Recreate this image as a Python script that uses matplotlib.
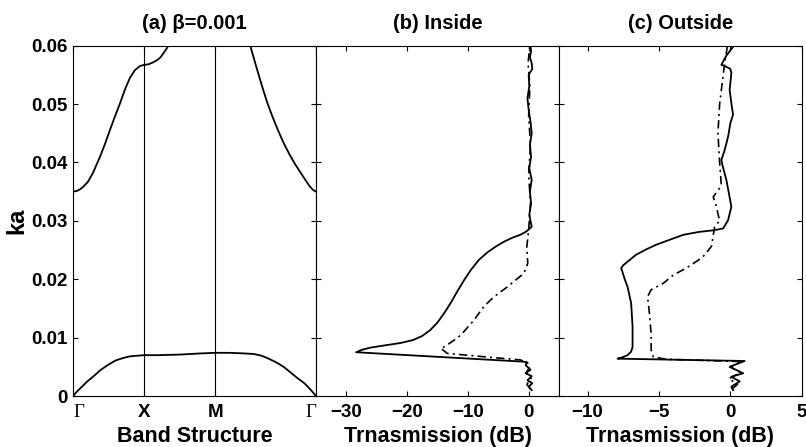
import numpy as np
import matplotlib
matplotlib.use("Agg")
import matplotlib.pyplot as plt

plt.rcParams['font.family'] = ['Liberation Sans', 'DejaVu Sans']
plt.rcParams['font.weight'] = 'bold'
plt.rcParams['axes.labelweight'] = 'bold'
plt.rcParams['axes.titleweight'] = 'bold'
plt.rcParams['axes.linewidth'] = 0.8

# symmetry points along the path G-X-M-G
kpts = [0, 1, 2, 2 + np.sqrt(2)]
klabels = ['\u0393', 'X', 'M', '\u0393']

# band structure, lower band
k_low = [0, 0.05, 0.1, 0.15, 0.2, 0.3, 0.38, 0.5, 0.6, 0.7, 0.8, 0.9, 1.0, 1.2, 1.5, 1.8, 2.0,
         2.2, 2.4, 2.54, 2.65, 2.73, 2.85, 2.96, 3.05, 3.15, 3.25, 3.33, 3.414]
ka_low = [0, 0.0007, 0.0013, 0.0019, 0.0025, 0.0035, 0.0044, 0.0054, 0.0061, 0.0065, 0.0068,
          0.0069, 0.0070, 0.0070, 0.0071, 0.0073, 0.0074, 0.0074, 0.0073, 0.0072, 0.0069, 0.0065,
          0.0058, 0.0050, 0.0041, 0.0031, 0.0022, 0.0012, 0.0]
# upper band, G-X and on towards M
k_up1 = [0, 0.05, 0.1, 0.15, 0.21, 0.28, 0.38, 0.45, 0.52, 0.59, 0.66, 0.73, 0.8, 0.87, 0.94,
         1.0, 1.06, 1.12, 1.18, 1.23, 1.27, 1.31, 1.34]
ka_up1 = [0.0350, 0.0351, 0.0354, 0.0359, 0.0367, 0.0382, 0.0410, 0.0432, 0.0456, 0.0479, 0.0501,
          0.0525, 0.0545, 0.0558, 0.0565, 0.0567, 0.0568, 0.0571, 0.0575, 0.0580, 0.0587, 0.0594, 0.0600]
# upper band, M-G
k_up2 = [2.49, 2.56, 2.63, 2.68, 2.73, 2.8, 2.88, 2.96, 3.04, 3.12, 3.2, 3.27, 3.32, 3.37, 3.414]
ka_up2 = [0.0600, 0.0570, 0.0541, 0.0521, 0.0502, 0.0479, 0.0455, 0.0433, 0.0414, 0.0397, 0.0382,
          0.0369, 0.0360, 0.0353, 0.0350]

# (b) inside, solid
in_s_db = [0.5, 0.0, 0.6, -0.2, 0.5, -0.5, 0.3, -0.5, -0.3, -1.1, -28.4,
           -27.5, -26.0, -23.5, -21.0, -19.0, -17.5, -16.2, -15.0, -13.9, -12.8, -11.7, -10.6, -9.5,
           -8.2, -6.8, -5.4, -4.1, -2.7, -1.4, -0.5, 0.0,
           0.5, 0.1, 0.4, 0.2, 0.5, 0.1, 0.4, 0.2, 0.5, 0.3, 0.0, -0.2, 0.1, 0.0, 0.6, 0.5, 0.2, 0.4, 0.3]
in_s_ka = [0.0010, 0.0016, 0.0022, 0.0027, 0.0034, 0.0039, 0.0045, 0.0053, 0.0058, 0.0059, 0.0075,
           0.0079, 0.0083, 0.0087, 0.0091, 0.0096, 0.0103, 0.0113, 0.0126, 0.0142, 0.0160, 0.0180,
           0.0199, 0.0216, 0.0233, 0.0246, 0.0256, 0.0264, 0.0271, 0.0276, 0.0281, 0.0285,
           0.0290, 0.0310, 0.0330, 0.0350, 0.0370, 0.0390, 0.0410, 0.0430, 0.0450, 0.0470, 0.0490, 0.0510,
           0.0530, 0.0550, 0.0560, 0.0570, 0.0580, 0.0590, 0.0600]
# (b) inside, dash-dot
in_d_db = [0.3, -0.3, 0.4, -0.4, 0.2, -0.2, -1.4, -6.0, -13.4, -14.5, -13.9, -12.5, -11.2, -9.0, -7.4,
           -5.7, -3.5, -0.8, -0.15, -0.3, 0.0, 0.3, 0.0, 0.3, 0.0, 0.2, -0.1, 0.2]
in_d_ka = [0.0012, 0.0020, 0.0030, 0.0040, 0.0050, 0.0057, 0.0062, 0.0066, 0.0073, 0.0082, 0.0084,
           0.0094, 0.0104, 0.0130, 0.0153, 0.0170, 0.0187, 0.0210, 0.0227, 0.0256, 0.0285,
           0.0330, 0.0380, 0.0430, 0.0480, 0.0530, 0.0570, 0.0600]

# (c) outside, solid
out_s_db = [0.2, 0.07, 0.65, 0.07, 0.9, -0.05, 1.0, -7.9, -7.6, -7.2, -6.95, -6.85, -6.85, -6.95,
            -7.2, -7.4, -7.55, -7.65, -7.5, -7.1, -6.6, -5.9, -5.2, -4.2, -3.3, -2.2, -1.1, -0.5,
            -0.16, -0.05, 0.07, -0.1, -0.28, -0.55, -0.63, -0.4, -0.15, 0.0, 0.19, 0.1, -0.05,
            0.07, 0.0, -0.4, -0.63, -0.3, 0.19]
out_s_ka = [0.0010, 0.0016, 0.0025, 0.0033, 0.0039, 0.0050, 0.0060, 0.0064, 0.0066, 0.0070, 0.0076,
            0.0084, 0.0119, 0.0159, 0.0187, 0.0200, 0.0212, 0.0219, 0.0224, 0.0232, 0.0242, 0.0251,
            0.0259, 0.0268, 0.0276, 0.0281, 0.0284, 0.0287, 0.0301, 0.0312, 0.0324, 0.0347, 0.0370,
            0.0395, 0.0404, 0.0421, 0.0445, 0.0467, 0.0482, 0.0496, 0.0524, 0.0553, 0.0560, 0.0565,
            0.0567, 0.0582, 0.0598]
# (c) outside, dash-dot
out_d_db = [0.1, 0.5, -0.1, 0.7, 0.0, 0.8, -4.5, -5.4, -5.55, -5.55, -5.67, -5.8, -5.55, -4.7, -4.0,
            -3.1, -2.4, -1.9, -1.33, -1.1, -0.75, -1.0, -1.2, -0.63, -0.75, -0.87, -0.75, -0.4, -0.2]
out_d_ka = [0.0012, 0.0020, 0.0030, 0.0040, 0.0050, 0.0059, 0.0063, 0.0067, 0.0079, 0.0107, 0.0142, 0.0170,
            0.0182, 0.0193, 0.0207, 0.0219, 0.0230, 0.0239, 0.0256, 0.0290, 0.0300, 0.0326, 0.0341, 0.0360,
            0.0400, 0.0450, 0.0500, 0.0570, 0.0600]

fig = plt.figure(figsize=(8.06, 4.47), dpi=100)
bottom, height = 0.114, 0.784
ax1 = fig.add_axes([0.0906, bottom, 0.3015, height])
ax2 = fig.add_axes([0.3921, bottom, 0.3015, height])
ax3 = fig.add_axes([0.6936, bottom, 0.3011, height])

lw = 1.3
dd = (0, (5, 2.5, 1.2, 2.5))

ax1.plot(k_low, ka_low, color='k', lw=lw)
ax1.plot(k_up1, ka_up1, color='k', lw=lw)
ax1.plot(k_up2, ka_up2, color='k', lw=lw)
for kp in kpts[1:3]:
    ax1.axvline(kp, color='k', lw=0.8)
ax1.set_xlim(kpts[0], kpts[-1])
ax1.set_xticks(kpts)
ax1.set_xticklabels(klabels)
tl = ax1.get_xticklabels()
for i in (0, 3):
    tl[i].set_fontfamily('Liberation Serif')
    tl[i].set_fontweight('normal')
    tl[i].set_fontsize(15)
tl[0].set_ha('left')
tl[3].set_ha('right')
ax1.set_yticks([0, 0.01, 0.02, 0.03, 0.04, 0.05, 0.06])
ax1.set_yticklabels(['0', '0.01', '0.02', '0.03', '0.04', '0.05', '0.06'])
ax1.set_ylabel('ka', fontsize=17, labelpad=2)
ax1.set_xlabel('Band Structure', fontsize=15.5, labelpad=3)
ax1.set_title('(a) \u03b2=0.001', fontsize=14.5, pad=12)

ax2.plot(in_s_db, in_s_ka, color='k', lw=lw)
ax2.plot(in_d_db, in_d_ka, color='k', lw=1.2, linestyle=dd)
ax2.set_xlim(-35, 5)
ax2.set_xticks([-30, -20, -10, 0])
ax2.set_xlabel('Trnasmission (dB)', fontsize=15.5, labelpad=3)
ax2.set_title('(b) Inside', fontsize=14.5, pad=12)

ax3.plot(out_s_db, out_s_ka, color='k', lw=lw)
ax3.plot(out_d_db, out_d_ka, color='k', lw=1.2, linestyle=dd)
ax3.set_xlim(-12, 5)
ax3.set_xticks([-10, -5, 0, 5])
ax3.set_xlabel('Trnasmission (dB)', fontsize=15.5, labelpad=3)
ax3.set_title('(c) Outside', fontsize=14.5, pad=12)

for ax in (ax1, ax2, ax3):
    ax.set_ylim(0, 0.06)
    ax.tick_params(direction='in', top=True, right=True, length=3.5, width=0.8,
                   labelsize=13.5, pad=4)
    ax.tick_params(axis='x', pad=6)
for ax in (ax2, ax3):
    ax.set_yticks([0, 0.01, 0.02, 0.03, 0.04, 0.05, 0.06])
    ax.tick_params(labelleft=False)

fig.savefig('out.png', dpi=100)
